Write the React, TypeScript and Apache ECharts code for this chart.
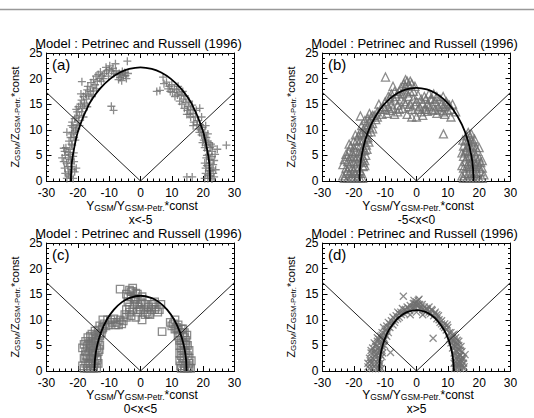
import React, { useEffect, useRef } from "react";
import * as echarts from "echarts";

const FONT = "Liberation Sans, Arial, Helvetica, sans-serif";

const panelLabels = ["(a)", "(b)", "(c)", "(d)"];
const rangeLabels = ["x<-5", "-5<x<0", "0<x<5", "x>5"];
const titleText = "Model : Petrinec and Russell (1996)";
const xNameRich = "{n|Y}{s|GSM}{n|/Y}{s|GSM-Petr.}{n|*const}";
const yNameParts: [string, boolean][] = [["Z", false], ["GSM", true], ["/Z", false], ["GSM-Petr.", true], ["*const", false]];

// observations, panel (a): plus signs
const pointsA: number[][] = [
  [-23.5,0.5],[-22.5,0.8],[-21.5,0.5],[-24,1.5],[-22.8,1.8],[-21.8,2.2],[-23.2,2.8],[-22.2,3.5],[-24.5,3.8],[-23,4.5],
  [-21.5,4.8],[-25,4.5],[-24.2,5.8],[-22.5,6.2],[-23.8,6.5],[-21.8,7],[-22.8,7.8],[-21.2,8.5],[-22,9.2],[-20.8,9.8],
  [-21.5,10.5],[-20.2,11],[-19.8,11.8],[-21,12.2],[-19.5,12.8],[-18.8,13.5],[-20.2,13.5],[-18.5,14.2],[-19.2,15],[-17.8,15.2],
  [-17.2,16],[-18.2,16.5],[-16.5,16.8],[-16,17.5],[-17,17.8],[-15.2,18.2],[-14.5,18.8],[-15.8,19.2],[-13.8,19.5],[-13,20],
  [-14.2,20.5],[-12.2,20.5],[-11.5,21],[-12.8,21.3],[-10.8,21.5],[-10,21.8],[-11,22.2],[-9.2,21.5],[-8.5,21],[-7.5,20.8],
  [-6.5,20.2],[-5.5,20.5],[-4.5,20],[-5,21.2],[-6,19.6],[-4.2,23.4],[-8,22.9],[-18.7,19.4],[-8.6,13.8],[-9.3,14.6],
  [-24.5,6.4],[-23.5,9.5],[-22,10.8],[-20.5,14],[-19,17],[-20.5,2.5],[-22.5,5.2],
  [-23,1.2],[-21,1.8],[-24.2,2.5],[-22,2.8],[-23.6,3.5],[-21.2,3.8],[-22.4,4.2],[-24,5],[-21.3,5.5],[-23,5.6],
  [-22,7.2],[-20.8,8],[-22.3,8.5],[-21.5,9.5],[-20.5,10.2],[-19.5,10.8],[-21.8,11.5],[-20.5,12.5],[-18.2,12.5],[-19.8,14.5],
  [-18,14.8],[-17,14.5],[-18.8,15.8],[-17.5,17],[-15.5,16.5],[-16.8,18.5],[-15,17.6],[-14,18],[-15,19.8],[-13.5,20.8],
  [-12.5,19.5],[-11.8,20],[-10.2,20.5],[-9.8,22.5],[-8.8,22],[-7.8,21.5],[-6.8,21],[-5.8,21.4],[-4.8,20.6],[-6.2,20.8],
  [-7,19.8],[-4,21],
  [5.2,17.5],[7.2,20.3],[8.3,19.3],[9.2,18.5],[10,18.8],[10.8,18],[9.5,17.5],[11.5,17.8],[12.3,17.2],[11,16.5],
  [13,16.8],[13.8,16],[12.5,15.6],[14.5,15.3],[15.2,14.5],[14,14.2],[16,14],[16.8,13.2],[15.5,13],[17.5,12.5],
  [18.2,11.8],[17,11.5],[19,11],[18.5,10.2],[19.8,10.5],[20.5,9.5],[19.5,9],[21,8.5],[20.2,8],[21.8,7.5],
  [20.8,7],[22.2,6.5],[21.2,6],[23,6.8],[24.5,6.2],[21.8,5.2],[22.8,4.8],[21,4.5],[23.5,4],[22,3.5],
  [21.2,3],[22.8,2.5],[21.8,2],[23.2,1.5],[22.2,1],[21.5,0.5],[22.8,0.4],[20.8,1.5],[27.4,7],[14.8,0.8],
  [16.5,0.8],[18.9,14.2],[6.2,17.7],[15,13.8],[19.5,12.5],
  [7.5,19],[8.8,18],[10.2,17.3],[11.8,16.8],[12,18.5],[13.5,17.5],[14.2,16.6],[13.2,15],[15.5,15.6],[16.5,14.8],
  [14.8,13],[16,12.5],[17.8,13.8],[18,11],[16.8,10.8],[19.2,10],[20.8,10.8],[18.8,9.5],[20,8.8],[21.5,9.2],
  [19.8,7.5],[21.2,7.8],[22.5,7.2],[20.5,6.5],[22.8,5.8],[21.2,5],[22.2,4.2],[20.5,3.5],[23.2,3.2],[22.5,2],
  [20.8,2.5],[21.5,1.2],[23.5,0.8],[20.5,0.5],[23.8,5.2],[24,2.2]
];

// panel (b): triangles
const pointsB: number[][] = [
  [-23,0.5],[-22,0.5],[-21,0.5],[-20,0.5],[-19,0.5],[-18,0.5],[-17.2,0.5],[-22.5,1.5],[-21.5,1.5],[-20.5,1.5],
  [-19.5,1.5],[-18.5,1.5],[-17.5,1.5],[-22.5,2.5],[-21.5,2.8],[-20.5,2.5],[-19.5,2.8],[-18.5,2.5],[-17,2.8],[-22,3.8],
  [-21,3.5],[-20,3.8],[-19,3.5],[-18,3.8],[-17,3.6],[-23.5,3.2],[-22,4.8],[-21,4.5],[-20,4.8],[-19,4.5],
  [-18,4.8],[-17,4.5],[-16.2,5],[-21.5,5.8],[-20.5,5.5],[-19.5,5.8],[-18.5,5.5],[-17.5,5.8],[-16.5,6],[-21,6.8],
  [-20,6.5],[-19,7],[-18,6.8],[-17,6.5],[-16,7],[-20,7.8],[-19,8],[-18,7.8],[-17,8],[-16,8.2],
  [-15.2,7.6],[-18.5,8.8],[-17.5,9.2],[-16.5,9],[-15.5,9.5],[-17,10],[-16,10.2],[-15,10.5],[-14.5,9.6],[-16,11],
  [-15,11.5],[-14,11.2],[-13,12],[-14.5,12.5],[-13.5,12.8],[-12.5,12.5],[-17.9,12.7],
  [-23.5,1],[-20.5,0.8],[-22,2],[-20,2],[-18,2],[-16.5,3],[-23,4.2],[-16.5,4],[-22.5,5.2],[-15.8,6.2],
  [-21.5,7.2],[-15.5,8.5],[-19.5,9],[-18,9.5],[-17.5,10.8],[-16.5,11.8],[-15.5,12.2],[-14,12.8],[-14,10.2],[-15,13.2],
  [-12.5,13.5],[-11.5,14],[-10.5,14.5],[-12,15],[-10,15.5],[-9,14.5],[-8,15],[-8.5,16.2],[-7,15.8],[-6,14.8],
  [-6.5,16.5],[-5,16],[-5.5,17.5],[-4,15.5],[-4.5,17],[-3.5,18.5],[-3,19.5],[-2.5,18.8],[-2,17.5],[-1.5,19],
  [-1,16],[-2,15],[0,15.5],[0.5,16.8],[1,14.5],[2,15.2],[2.5,16.5],[3,14],[3.5,15],[4.5,16],
  [5,14.8],[5.5,17],[6,15.5],[7,14.5],[7.5,16],[8,15],[8.5,13.5],[9,14.5],[9.5,15.5],[10.5,14.8],
  [11,14],[11.5,15],[10,13.8],[-9.9,20.3],[-7.5,18.5],[-5,18.2],[0,12.5],[-1.5,12.5],[2,12.8],[-3,13],
  [-6,13.5],[11,12.5],[12.5,13.5],
  [-11,13],[-10,14],[-9.5,13.2],[-8.5,13.8],[-7.5,14.2],[-7,13],[-5.5,14],[-4.5,14.2],[-3.5,15],[-2.5,14.5],
  [-1.5,14],[-0.5,14.8],[0.5,14],[1.5,13.5],[2.5,14],[3.5,13.6],[4,14.5],[5,13.8],[6,14],[6.5,13.2],
  [7.5,13.8],[8.5,14.5],[9,13],[10,15],[-9,16.5],[-8,17],[-7,17.5],[-6,17],[-4,17.8],[-3,17.2],
  [-2.5,16.5],[-1,17.5],[-0.5,18.5],[1.5,16],[3,16],[4,17],[5,16],[6.5,16.5],[8.5,16.5],[-4,19],
  [-2,19.5],[-3.5,19.8],
  [15,0.5],[16,0.5],[17,0.5],[18,0.5],[19,0.5],[20,0.5],[21,0.5],[15.5,1.5],[16.5,1.5],[17.5,1.5],
  [18.5,1.5],[19.5,1.5],[20.5,1.8],[15,2.5],[16,2.8],[17,2.5],[18,2.8],[19,2.5],[20,2.8],[21,2.5],
  [15.5,3.8],[16.5,3.5],[17.5,3.8],[18.5,3.5],[19.5,3.8],[20.5,3.6],[15,4.8],[16,4.5],[17,4.8],[18,4.5],
  [19,4.8],[20,4.5],[15.5,5.8],[16.5,5.5],[17.5,5.8],[18.5,5.5],[19.5,5.8],[15,6.8],[16,6.5],[17,7],
  [18,6.8],[19,6.5],[15.5,7.8],[16.5,8],[17.5,7.8],[18.2,7.6],[16,8.8],[17,8.6],[8.6,9.2],
  [14.5,1],[21.5,1.2],[14.5,3],[21,4],[14.5,5.5],[20,6.5],[14.8,8],[18.5,8.2],[17.5,9.2],[16.5,9.5],
  [18,1],[19,3.2],[17,3.2],[16,6]
];

// panel (c): squares
const pointsC: number[][] = [
  [-18,0.5],[-17,0.5],[-16,0.5],[-15,0.5],[-14,0.5],[-17.5,1.5],[-16.5,1.5],[-15.5,1.5],[-14.5,1.5],[-13.5,1.5],
  [-18,2.5],[-17,2.8],[-16,2.5],[-15,2.8],[-14,2.5],[-17.5,3.8],[-16.5,3.5],[-15.5,3.8],[-14.5,3.5],[-13.5,3.8],
  [-18.5,4.5],[-17,4.8],[-16,4.5],[-15,4.8],[-14,4.5],[-13,5],[-17.5,5.8],[-16.5,5.5],[-15.5,5.8],[-14.5,5.5],
  [-13.5,6],[-16,6.8],[-15,6.5],[-14,7],[-13,6.8],[-12.5,7.5],[-14.5,7.8],[-13.5,8],
  [-18.5,1],[-16.8,1],[-15,1],[-13.8,2.2],[-17.5,3.2],[-15.2,3.2],[-13.2,4.2],[-18,5.2],[-16,5.2],[-14.2,6.2],
  [-16.8,6.5],[-15.5,7.2],[-13,7.2],[-12.2,8.2],
  [-13,8.8],[-12,8.5],[-11.5,9.2],[-10.5,10],[-12,10],[-10,9],[-9,9.5],[-8.5,10.2],[-7.5,9.5],[-6.5,10],
  [-7,9],[-5.5,9.8],[-5,11],[-11,8.8],[-9.5,10],[-8,9],[-6,9.2],[-4.5,10.5],
  [-4.5,12],[-4,13.5],[-3.5,12.5],[-3,14.5],[-2.5,15.5],[-2,13],[-1.5,14],[-1,15],[-0.5,12.5],[0,13.5],
  [-1,11.5],[0.5,14.5],[1,12],[1.5,13],[2,11.5],[2.5,12.5],[3,11],[3.5,12],[4,13],[5,12.5],
  [5.5,11.5],[6.5,13],[-6.5,16],[-2.5,16.2],[-3.5,15.8],[-4.5,15],[-1.5,10.5],[0.5,10],[-3,10.8],[6.9,7.7],
  [-3.5,11.5],[-2.5,12],[-2,14.2],[-1,13],[0,12],[0.5,13.2],[1.5,11],[2.5,11.2],[3.5,13],[4.5,12],
  [4.5,13.5],[-3,15.5],[-1.5,15.2],[-4,14.5],[6,12],
  [9.5,9.5],[10.5,9.2],[11,10],[11.5,8.5],[12,9],[12.5,7.5],[13,8.2],[13.5,7],[12.5,6],[13.5,5.5],
  [14,6.5],[13,4.5],[14,4],[14.5,5],[13,3],[14,2.5],[15,3],[13.5,1.5],[14.5,1.5],[15.5,1.5],
  [13,0.5],[14,0.5],[15,0.5],[16,0.5],[12.5,2],[15.5,4],[14.8,7],
  [10,8.8],[11,8.2],[12,8],[13.5,8.2],[14,7.5],[12,6.8],[13,6],[14.5,6],[12.5,5],[14,5.2],
  [15,5],[12.5,3.5],[13.5,4],[14.5,3.5],[15.5,2.5],[13.5,2.5],[12.8,1],[14.2,1],[15.5,0.8],[16.2,2]
];

// panel (d): crosses
const pointsD: number[][] = [
  [-15,0.5],[-14,0.5],[-13,0.5],[-12,0.5],[-11.2,0.5],[-15.5,1.5],[-14.5,1.5],[-13.5,1.5],[-12.5,1.5],[-11.5,1.5],
  [-15,2.5],[-14,2.5],[-13,2.8],[-12,2.5],[-11,2.8],[-14.5,3.5],[-13.5,3.8],[-12.5,3.5],[-11.5,3.8],[-10.8,3.5],
  [-14,4.5],[-13,4.8],[-12,4.5],[-11,4.8],[-10.2,5],[-13.5,5.5],[-12.5,5.8],[-11.5,5.5],[-10.5,5.8],[-12.5,6.5],
  [-11.5,6.8],[-10.5,6.5],[-9.5,6.8],[-8.3,3.6],
  [-15.5,0.8],[-13.5,1],[-11.8,1],[-14.8,2],[-13.5,2.2],[-12,2],[-11.5,3.2],[-13,3.3],[-14.5,4],[-12.5,4.2],
  [-11.2,4.2],[-13,5.2],[-11,5.2],[-12,6.2],[-10.2,6.2],[-11,7],[-10,7.2],
  [-11,7.5],[-10,7.8],[-9,7.5],[-10.5,8.5],[-9.5,8.8],[-8.5,8.5],[-9,9.5],[-8,9.8],[-7,9.5],[-7.5,10.5],
  [-6.5,10.8],[-5.5,10.5],[-6,11.5],[-5,11.5],[-4,11.2],[-4.5,12.2],[-3.5,12],[-2.5,12.2],[-3,11.5],[-2,12.8],
  [-1,13.2],[0,13.5],[0.5,13.8],[1,13],[-0.5,12.5],[1.5,12.5],[2,12],[2.5,12.5],[3,11.5],[3.5,12],
  [4,12.5],[4.5,11.2],[5,11.8],[5.5,10.8],[6,11.5],[6.5,10.2],[7,10.8],[7.5,9.5],[8,9.8],[8.5,8.8],
  [9,9.2],[9.5,8],[10,8.5],[-4.2,14.6],[5.3,6.4],[-2,11],[2,11],[0,11.5],
  [-9.5,8.2],[-8.5,9.2],[-7.5,9],[-6.8,10],[-6,10.2],[-5.5,11.2],[-4.8,11],[-3.8,11.8],[-3,12.5],[-2.2,11.8],
  [-1.5,12.2],[-1,12.5],[-0.5,13.2],[0.3,12.8],[1,12.2],[1.8,13],[2.5,11.8],[3.2,12.2],[4,11.5],[4.8,12],
  [5.8,11.2],[6.5,11],[7.2,10],[8,9.2],[9,8.5],[9.8,9],[0,13],[-0.8,13.8],[0.8,14],
  [10,7],[11,7.5],[10.5,6.2],[11.5,6.5],[12,7.2],[11,5.5],[12,5.8],[13,6],[11.5,4.5],[12.5,4.8],
  [13.5,5],[12,3.5],[13,3.8],[14,4],[12.5,2.5],[13.5,2.8],[14.5,2.5],[12,1.5],[13,1.5],[14,1.5],
  [15,1.5],[12.2,0.5],[13,0.5],[14,0.5],[15,0.5],[14.1,3.1],[15.5,3.2],
  [10.5,7.5],[11.5,7],[12.5,6.5],[11.2,6],[12.5,5.5],[13.5,5.8],[11.8,5],[13,5.2],[14.2,4.8],[12.5,4],
  [13.5,4.2],[14.5,3.8],[12.2,3],[13,2.8],[14,3],[15,2.5],[12.5,1.8],[13.5,2],[14.5,2],[12.5,1],
  [13.5,1],[14.5,1],[15.2,0.8]
];

// model boundary
const modelA: number[][] = [
  [-22.2,0],[-22.06,2.5],[-21.6,5],[-19.8,10],[-16.4,15],[-13,18],[-9.6,20],[-6.6,21.2],[-3.6,21.9],[0,22.2],
  [3.6,21.9],[6.6,21.2],[9.6,20],[13,18],[16.4,15],[19.8,10],[21.6,5],[22.06,2.5],[22.2,0]
];
const modelB: number[][] = [
  [-18.2,0],[-18.03,2.5],[-17.5,5],[-16.35,8],[-14.5,11],[-11.63,14],[-8.68,16],[-5.95,17.2],[-3.3,17.9],[0,18.2],
  [3.3,17.9],[5.95,17.2],[8.68,16],[11.63,14],[14.5,11],[16.35,8],[17.5,5],[18.03,2.5],[18.2,0]
];
const modelC: number[][] = [
  [-14.7,0],[-14.49,2.5],[-13.82,5],[-12.64,7.5],[-10.77,10],[-8.49,12],[-5.82,13.5],[-3.41,14.3],[0,14.7],
  [3.41,14.3],[5.82,13.5],[8.49,12],[10.77,10],[12.64,7.5],[13.82,5],[14.49,2.5],[14.7,0]
];
const modelD: number[][] = [
  [-11.9,0],[-11.73,2],[-11.21,4],[-10.28,6],[-8.81,8],[-6.45,10],[-4.54,11],[-2.66,11.6],[0,11.9],
  [2.66,11.6],[4.54,11],[6.45,10],[8.81,8],[10.28,6],[11.21,4],[11.73,2],[11.9,0]
];
const vLine: number[][] = [[-30, 17.3], [0, 0], [30, 17.3]];

const allPoints = [pointsA, pointsB, pointsC, pointsD];
const allModels = [modelA, modelB, modelC, modelD];

const GRAY = "#6f6f6f";
const markers = [
  { symbol: "path://M0,5L10,5M5,0L5,10", size: 8 },
  { symbol: "triangle", size: 8 },
  { symbol: "rect", size: 7.5 },
  { symbol: "path://M0,0L10,10M10,0L0,10", size: 7 },
];

const grids = [
  { left: 46.5, top: 53 },
  { left: 322.5, top: 53 },
  { left: 46.5, top: 243 },
  { left: 322.5, top: 243 },
];
const GW = 188;
const GH = 128;

const richX = {
  n: { fontSize: 12, fontFamily: FONT, fill: "#000", lineHeight: 13.5 },
  s: { fontSize: 8.5, fontFamily: FONT, fill: "#000", lineHeight: 7, verticalAlign: "bottom" },
};

function measure(t: string, size: number): number {
  const c = document.createElement("canvas").getContext("2d");
  if (!c) return t.length * size * 0.55;
  c.font = size + 'px "Liberation Sans", Arial, sans-serif';
  return c.measureText(t).width;
}

function subLabelChildren(parts: [string, boolean][], main: number, sub: number, shift: number) {
  const widths = parts.map(([t, s]) => measure(t, s ? sub : main));
  const total = widths.reduce((a, b) => a + b, 0);
  let x = -total / 2;
  return parts.map(([t, s], k) => {
    const el = {
      type: "text", x, y: s ? shift : 0,
      style: { text: t, fontSize: s ? sub : main, fontFamily: FONT, fill: "#000", align: "left", verticalAlign: "middle" },
    };
    x += widths[k];
    return el;
  });
}

export default function App() {
  const ref = useRef<HTMLDivElement>(null);
  useEffect(() => {
    if (!ref.current) return;
    const chart = echarts.init(ref.current, undefined, { renderer: "svg" });
    const tickCommon = {
      axisTick: { show: true, inside: true, length: 5, lineStyle: { color: "#000", width: 1 } },
      minorTick: { show: true, splitNumber: 5, length: 2.5, lineStyle: { color: "#000", width: 1 } },
      splitLine: { show: false },
      minorSplitLine: { show: false },
      axisLine: { show: true, onZero: false, lineStyle: { color: "#000", width: 1 } },
    };
    const xAxes: any[] = [];
    const yAxes: any[] = [];
    const series: any[] = [];
    const graphics: any[] = [
      { type: "line", shape: { x1: 0, y1: 9.5, x2: 534, y2: 9.5 }, style: { stroke: "#999", lineWidth: 1.6 } },
    ];
    for (let i = 0; i < 4; i++) {
      xAxes.push({
        type: "value", gridIndex: i, min: -30, max: 30, interval: 10, position: "bottom",
        ...tickCommon,
        axisLabel: { fontSize: 12, fontFamily: FONT, color: "#000", margin: 6, showMinLabel: true, showMaxLabel: true },
      });
      yAxes.push({
        type: "value", gridIndex: i, min: 0, max: 25, interval: 5, position: "left",
        ...tickCommon,
        axisLabel: { fontSize: 12, fontFamily: FONT, color: "#000", margin: 4, showMinLabel: true, showMaxLabel: true },
      });
    }
    for (let i = 0; i < 4; i++) {
      xAxes.push({
        type: "value", gridIndex: i, min: -30, max: 30, interval: 10, position: "top",
        ...tickCommon, axisLabel: { show: false },
      });
      yAxes.push({
        type: "value", gridIndex: i, min: 0, max: 25, interval: 5, position: "right",
        ...tickCommon, axisLabel: { show: false },
      });
    }
    const yChildren = subLabelChildren(yNameParts, 11, 7.8, 3.2);
    for (let i = 0; i < 4; i++) {
      series.push({
        type: "scatter", xAxisIndex: i, yAxisIndex: i, data: allPoints[i],
        symbol: markers[i].symbol, symbolSize: markers[i].size, silent: true,
        itemStyle: { color: "transparent", borderColor: GRAY, borderWidth: 1.3 },
      });
      series.push({
        type: "line", xAxisIndex: i, yAxisIndex: i, data: vLine, showSymbol: false, silent: true,
        lineStyle: { color: "#222", width: 1 },
      });
      series.push({
        type: "line", xAxisIndex: i, yAxisIndex: i, data: allModels[i], showSymbol: false, silent: true,
        smooth: 0.35, lineStyle: { color: "#000", width: 1.8 },
      });
      const g = grids[i];
      const cx = g.left + GW / 2;
      const bottom = g.top + GH;
      const top = i < 2;
      graphics.push({
        type: "text", x: cx - 2, y: g.top - 9.5,
        style: { text: titleText, fontSize: 13, fontFamily: FONT, fill: "#000", align: "center", verticalAlign: "middle" },
      });
      graphics.push({
        type: "text", x: g.left + 5.5, y: g.top + 11,
        style: { text: panelLabels[i], fontSize: 15, fontFamily: FONT, fill: "#000", align: "left", verticalAlign: "middle" },
      });
      graphics.push({
        type: "text", x: cx + 1.5, y: bottom + (top ? 24.5 : 23.5),
        style: { text: xNameRich, rich: richX, fontSize: 12, fontFamily: FONT, fill: "#000", align: "center", verticalAlign: "middle" },
      });
      graphics.push({
        type: "text", x: cx, y: bottom + (top ? 38.5 : 37.5),
        style: { text: rangeLabels[i], fontSize: 12, fontFamily: FONT, fill: "#000", align: "center", verticalAlign: "middle" },
      });
      graphics.push({
        type: "group", x: g.left - 32, y: g.top + GH / 2, rotation: Math.PI / 2,
        children: yChildren.map((c) => ({ ...c, style: { ...c.style } })),
      });
    }
    chart.setOption({
      animation: false,
      backgroundColor: "#fff",
      grid: grids.map((g) => ({ left: g.left, top: g.top, width: GW, height: GH, containLabel: false })),
      xAxis: xAxes,
      yAxis: yAxes,
      series,
      graphic: graphics,
    });
    return () => chart.dispose();
  }, []);
  return <div ref={ref} style={{ position: "absolute", left: 0, top: 0, width: 534, height: 418 }} />;
}
